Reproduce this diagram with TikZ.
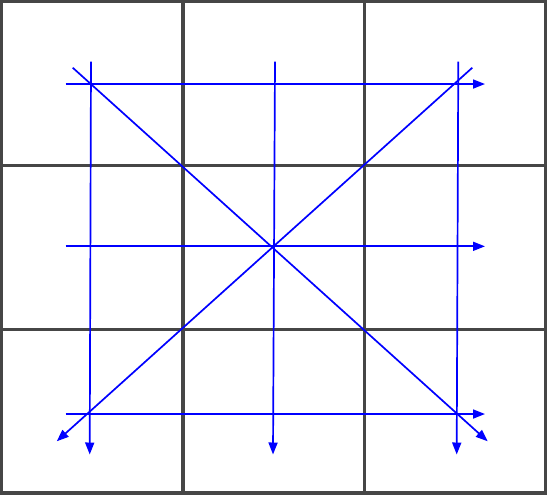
\documentclass[tikz,border=0pt]{standalone}
\usetikzlibrary{arrows.meta}

\definecolor{gridgray}{RGB}{70,70,70}

\begin{document}
\begin{tikzpicture}[x=1pt, y=-1pt, line width=1.4pt,
    sweep/.style={color=blue, line width=1.7pt, -{Triangle[length=12pt, width=9pt]}}]
    \useasboundingbox (0,0) rectangle (549,496);

    %%%%%%%%
    % grid of cells
    %%%%%%%%
    \foreach \i in {0,1,2}
        \foreach \j in {0,1,2}
            \draw[color=gridgray, line width=3.2pt] ({1.6+181.4*\i}, {1.6+163.8*\j}) rectangle ({1.6+181.4*(\i+1)}, {1.6+163.8*(\j+1)});

    %%%%%%%%
    % sweep points
    %%%%%%%%

    % rows
    \coordinate (rowA from) at (65.7, 84);
    \coordinate (rowA to) at (485, 84);
    \coordinate (rowB from) at (65.7, 246.3);
    \coordinate (rowB to) at (485, 246.3);
    \coordinate (rowC from) at (65.7, 414);
    \coordinate (rowC to) at (485, 414);

    % columns
    \coordinate (colA from) at (91, 61.7);
    \coordinate (colA to) at (89.7, 454.5);
    \coordinate (colB from) at (275, 61.7);
    \coordinate (colB to) at (273, 454.5);
    \coordinate (colC from) at (458.3, 61.7);
    \coordinate (colC to) at (456.7, 454.5);

    % diagonals
    \coordinate (diagA from) at (72.7, 67.7);
    \coordinate (diagA to) at (487.7, 441.3);
    \coordinate (diagB from) at (472.3, 67.7);
    \coordinate (diagB to) at (56.7, 441.3);

    %%%%%%%%
    % draw sweeps
    %%%%%%%%
    \draw[sweep] (rowA from) -- (rowA to);
    \draw[sweep] (rowB from) -- (rowB to);
    \draw[sweep] (rowC from) -- (rowC to);

    \draw[sweep] (colA from) -- (colA to);
    \draw[sweep] (colB from) -- (colB to);
    \draw[sweep] (colC from) -- (colC to);

    \draw[sweep] (diagA from) -- (diagA to);
    \draw[sweep] (diagB from) -- (diagB to);
\end{tikzpicture}
\end{document}
